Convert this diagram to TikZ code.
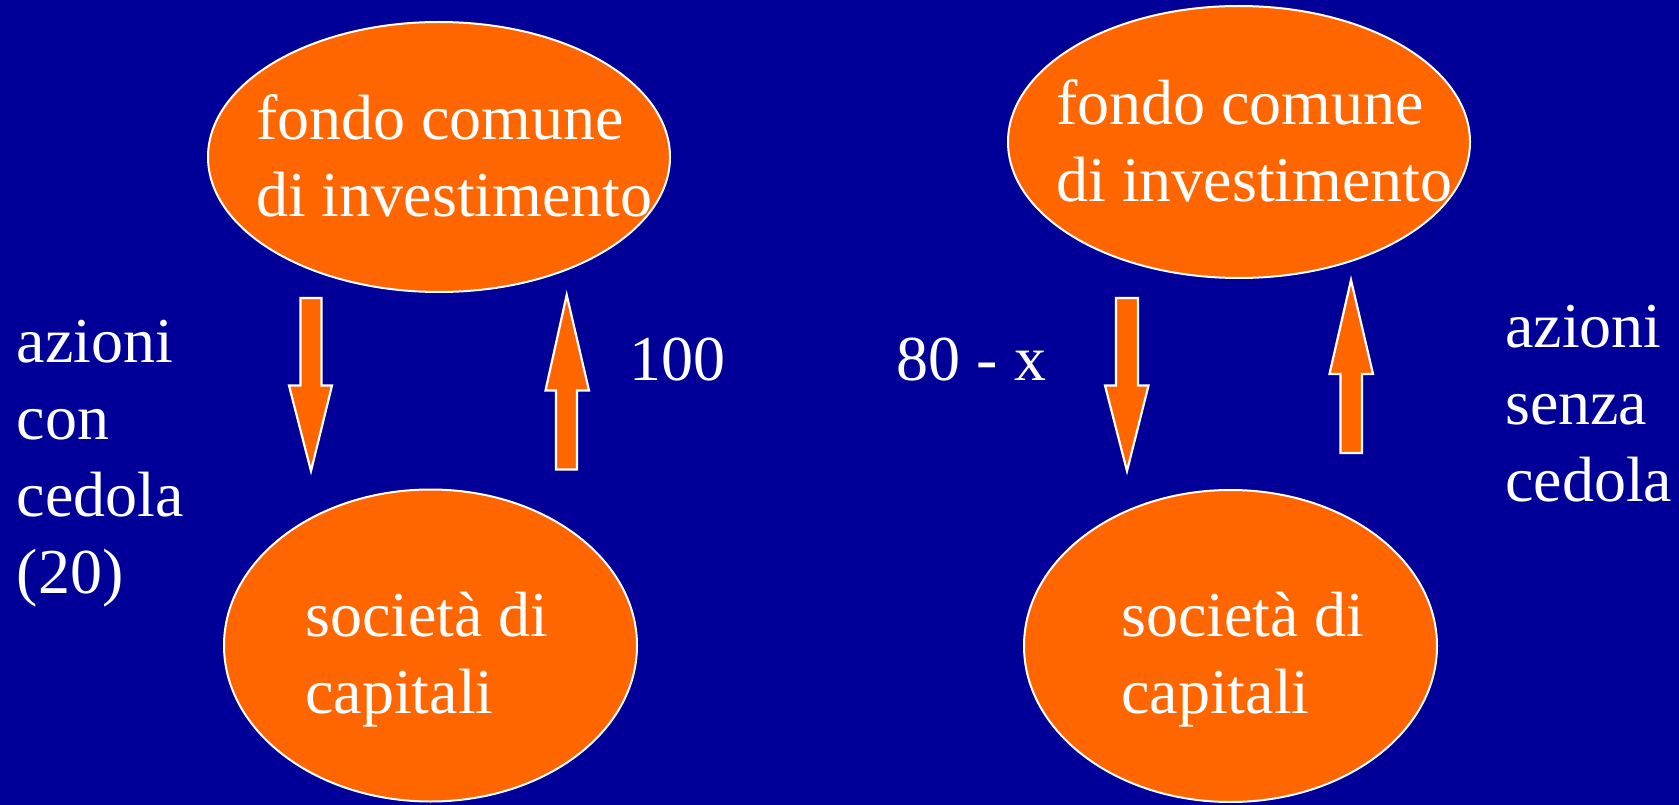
\documentclass[tikz,border=0pt]{standalone}
\usepackage{fontspec}
\setmainfont{Liberation Serif}
\usetikzlibrary{shapes.geometric}
\definecolor{bgblue}{HTML}{000099}
\definecolor{orng}{HTML}{FF6600}
\tikzset{
  ell/.style={ellipse, draw=white, line width=2pt, fill=orng, inner sep=0pt},
  lbl/.style={anchor=base west, inner sep=0pt, text=white, align=left,
              font=\fontsize{64}{77}\selectfont},
  blockarr/.style={draw=white, line width=2.2pt, fill=orng, line join=miter},
}
\begin{document}
\begin{tikzpicture}[x=1pt,y=-1pt]
\fill[bgblue] (0,0) rectangle (1679,805);
\useasboundingbox (0,0) rectangle (1679,805);

% ellipses
\node[ell, minimum width=462, minimum height=270] (fondoL) at (439,157) {};
\node[ell, minimum width=462, minimum height=272] (fondoR) at (1239,142) {};
\node[ell, minimum width=413, minimum height=312] (socL) at (430.5,645.5) {};
\node[ell, minimum width=413, minimum height=312] (socR) at (1230.5,646) {};

% ellipse texts (base anchor = baseline of the last line)
\node[lbl] (tfL) at (256,216.7) {fondo comune\\di investimento};
\node[lbl] (tfR) at (1056,201.7) {fondo comune\\di investimento};
\node[lbl] (tsL) at (305,713.3) {società di\\capitali};
\node[lbl] (tsR) at (1121,713.3) {società di\\capitali};

% block arrows
% left down
\draw[blockarr] (300.5,298) -- (321.5,298) -- (321.5,385.5) -- (332,385.5)
  -- (311,471) -- (289,385.5) -- (300.5,385.5) -- cycle;
% left up
\draw[blockarr] (556,469.5) -- (577,469.5) -- (577,390.5) -- (589,390.5)
  -- (566.7,295) -- (545.5,390.5) -- (556,390.5) -- cycle;
% right down
\draw[blockarr] (1116,298) -- (1138,298) -- (1138,385.5) -- (1148.5,385.5)
  -- (1127,471) -- (1105,385.5) -- (1116,385.5) -- cycle;
% right up
\draw[blockarr] (1340.5,453) -- (1362,453) -- (1362,374) -- (1373,374)
  -- (1351,280) -- (1329.5,374) -- (1340.5,374) -- cycle;

% side labels
\node[lbl] (lblL) at (16.7,593) {azioni\\con\\cedola\\(20)};
\node[lbl] (l100) at (629,380) {100};
\node[lbl] (l80) at (896.7,380.7) {80 - x};
\node[lbl] (lblR) at (1505,501.7) {azioni\\senza\\cedola};
\end{tikzpicture}
\end{document}
